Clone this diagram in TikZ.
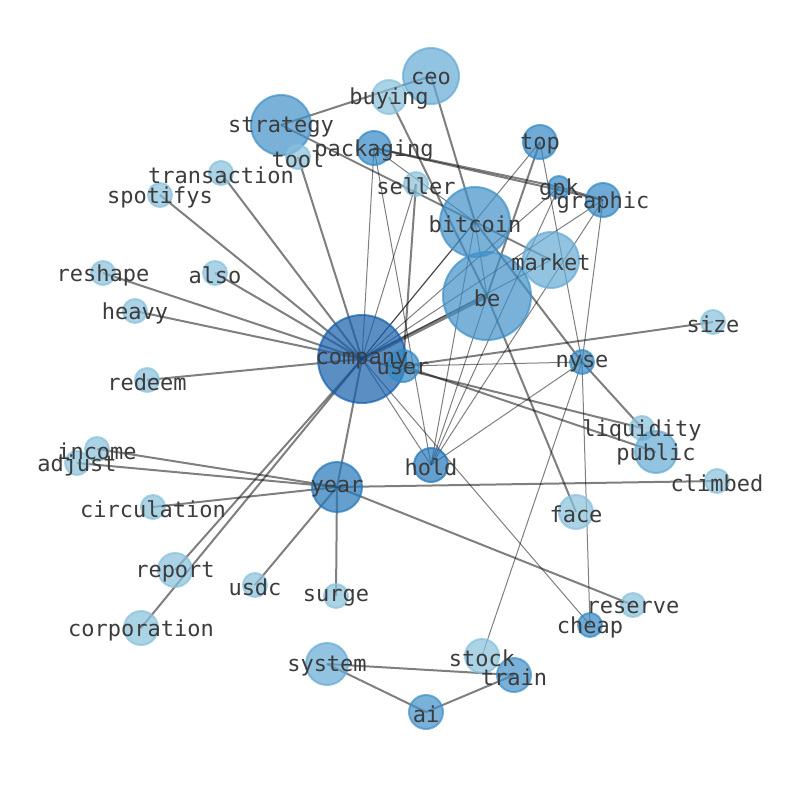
\documentclass[tikz,border=0pt]{standalone}
\usepackage{fontspec}
\usepackage{xcolor}
\newfontfamily\wordfont{DejaVu Sans Mono}

\definecolor{shadeA}{RGB}{22,95,171}
\definecolor{shadeB}{RGB}{36,118,185}
\definecolor{shadeC}{RGB}{50,136,196}
\definecolor{shadeD}{RGB}{64,144,200}
\definecolor{shadeE}{RGB}{100,170,212}
\definecolor{shadeF}{RGB}{136,192,220}
\definecolor{wordgray}{RGB}{60,60,60}

\pgfdeclarelayer{links}
\pgfsetlayers{links,main}

\tikzset{
  word/.style={circle, inner sep=0pt, line width=1.5pt, opacity=0.7},
  tag/.style={font=\wordfont\fontsize{16.5}{18}\selectfont, text=wordgray, inner sep=0pt, yshift=-1.5pt},
  s90/.style={minimum size=66pt},
  s72/.style={minimum size=52.5pt},
  s62/.style={minimum size=45pt},
  s57/.style={minimum size=42pt},
  s52/.style={minimum size=37.5pt},
  s44/.style={minimum size=31.5pt},
  s36/.style={minimum size=25.5pt},
  s34/.style={minimum size=24pt},
  s26/.style={minimum size=18pt},
  s24/.style={minimum size=16.5pt},
  tA/.style={fill=shadeA, draw=shadeA},
  tB/.style={fill=shadeB, draw=shadeB},
  tC/.style={fill=shadeC, draw=shadeC},
  tD/.style={fill=shadeD, draw=shadeD},
  tE/.style={fill=shadeE, draw=shadeE},
  tF/.style={fill=shadeF, draw=shadeF},
  link/.style={draw=black, opacity=0.5, line width=1.5pt},
  faint/.style={draw=black, opacity=0.5, line width=0.75pt},
  heavylink/.style={draw=black, opacity=0.5, line width=3pt}
}

\begin{document}
\begin{tikzpicture}[x=0.75pt, y=-0.75pt]
    \useasboundingbox (0,0) rectangle (794,790);

    % word nodes
    \node[word, s57, tE] (ceo) at (431,76) {};
    \node[word, s36, tF] (buying) at (389,97) {};
    \node[word, s62, tD] (strategy) at (281,125) {};
    \node[word, s36, tC] (packaging) at (374,148) {};
    \node[word, s26, tF] (tool) at (298,157) {};
    \node[word, s36, tC] (top) at (540,142) {};
    \node[word, s26, tF] (transaction) at (221,173) {};
    \node[word, s26, tF] (spotifys) at (160,195) {};
    \node[word, s26, tF] (seller) at (416,184) {};
    \node[word, s24, tC] (gpk) at (559,187) {};
    \node[word, s36, tC] (graphic) at (603,200) {};
    \node[word, s72, tD] (bitcoin) at (475,222) {};
    \node[word, s57, tE] (market) at (551,260) {};
    \node[word, s90, tD] (be) at (487,296) {};
    \node[word, s26, tF] (reshape) at (103,273) {};
    \node[word, s26, tF] (also) at (215,273) {};
    \node[word, s26, tF] (heavy) at (135,311) {};
    \node[word, s26, tF] (size) at (713,322) {};
    \node[word, s90, tA] (company) at (362,359) {};
    \node[word, s34, tC] (user) at (403,366) {};
    \node[word, s26, tC] (nyse) at (582,362) {};
    \node[word, s26, tF] (redeem) at (147,380) {};
    \node[word, s26, tF] (liquidity) at (642,428) {};
    \node[word, s44, tE] (public) at (656,452) {};
    \node[word, s26, tF] (income) at (97,449) {};
    \node[word, s26, tF] (adjust) at (77,463) {};
    \node[word, s36, tB] (hold) at (431,465) {};
    \node[word, s52, tB] (year) at (337,487) {};
    \node[word, s26, tF] (climbed) at (717,481) {};
    \node[word, s26, tF] (circulation) at (153,507) {};
    \node[word, s36, tF] (face) at (576,512) {};
    \node[word, s36, tF] (report) at (175,570) {};
    \node[word, s26, tF] (usdc) at (255,585) {};
    \node[word, s26, tF] (surge) at (336,596) {};
    \node[word, s26, tF] (reserve) at (633,605) {};
    \node[word, s26, tC] (cheap) at (590,625) {};
    \node[word, s36, tF] (corporation) at (141,628) {};
    \node[word, s44, tE] (system) at (327,664) {};
    \node[word, s36, tF] (stock) at (482,656) {};
    \node[word, s36, tD] (train) at (514,675) {};
    \node[word, s36, tD] (ai) at (426,712) {};

    % words on top of every circle
    \foreach \w in {ceo, buying, strategy, packaging, tool, top, transaction,
        spotifys, seller, gpk, graphic, bitcoin, market, be, reshape, also,
        heavy, size, company, user, nyse, redeem, liquidity, public, income,
        adjust, hold, year, climbed, circulation, face, report, usdc, surge,
        reserve, cheap, corporation, system, stock, train, ai}
        \node[tag] (\w-t) at (\w.center) {\w};

    % co-occurrence links, below the nodes
    \begin{pgfonlayer}{links}
    \foreach \a/\b in {strategy/ceo, strategy/market, packaging/gpk, packaging/graphic,
        gpk/graphic, ceo/bitcoin, buying/be, be/face, top/be, bitcoin/nyse,
        nyse/liquidity, seller/user, company/tool, company/transaction,
        company/spotifys, company/also, company/reshape, company/heavy,
        company/redeem, user/size, company/liquidity, user/public,
        company/report, company/corporation, company/year, year/income,
        year/adjust, year/circulation, year/usdc, year/surge, year/climbed,
        year/reserve, system/train, system/ai, ai/train}
        \draw[link] (\a.center) -- (\b.center);
    \foreach \a/\b in {company/packaging, company/seller, company/bitcoin,
        company/top, company/gpk, company/graphic, company/market, company/hold,
        company/cheap, user/nyse, hold/packaging, hold/bitcoin, hold/be,
        hold/gpk, hold/graphic, hold/nyse, top/nyse, graphic/nyse, nyse/cheap,
        nyse/stock, packaging/bitcoin, bitcoin/be}
        \draw[faint] (\a.center) -- (\b.center);
    \draw[heavylink] (company.center) -- (be.center);
    \end{pgfonlayer}
\end{tikzpicture}
\end{document}
